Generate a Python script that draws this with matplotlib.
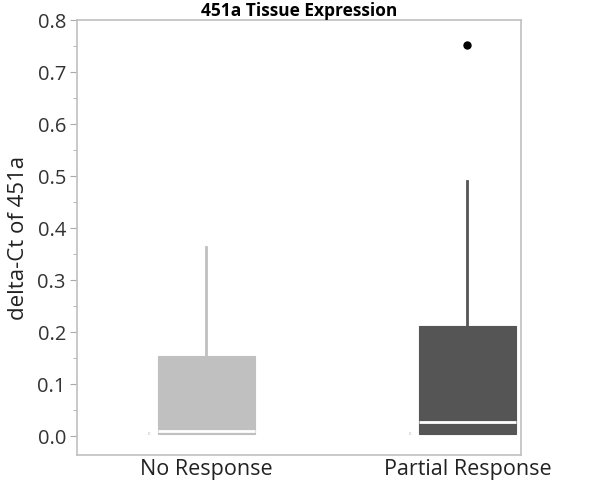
import numpy as np
import matplotlib
matplotlib.use('Agg')
import matplotlib.pyplot as plt
from matplotlib.ticker import MultipleLocator

plt.rcParams['font.family'] = ['Open Sans', 'DejaVu Sans']

groups = ['No Response', 'Partial Response']
q1 = [0.004, 0.004]
med = [0.009, 0.026]
q3 = [0.154, 0.211]
wlo = [0.004, 0.004]
whi = [0.363, 0.490]
outliers = [[], [0.752]]
box_colors = ['#c0c0c0', '#555555']

fig = plt.figure(figsize=(6, 4.82), dpi=100)
ax = fig.add_axes([77/600, 1 - 455/482, 444/600, 435/482])

stats = []
for i in range(len(groups)):
    stats.append(dict(label=groups[i], q1=q1[i], med=med[i], q3=q3[i],
                      whislo=wlo[i], whishi=whi[i], fliers=outliers[i]))

for i, s in enumerate(stats):
    ax.bxp([s], positions=[i], widths=0.37, patch_artist=True, showcaps=False,
           boxprops=dict(facecolor=box_colors[i], edgecolor=box_colors[i], linewidth=0.8),
           whiskerprops=dict(color=box_colors[i], linewidth=2),
           medianprops=dict(color='white', linewidth=2),
           flierprops=dict(marker='o', markerfacecolor='black', markeredgecolor='black',
                           markersize=5))
    ax.text(i - 0.22, q1[i], 'c', fontsize=4, color='#aaaaaa', ha='center', va='center')

ax.set_xlim(-0.495, 1.205)
ax.set_ylim(-0.0365, 0.8)
ax.yaxis.set_major_locator(MultipleLocator(0.1))
ax.yaxis.set_minor_locator(MultipleLocator(0.05))
ax.yaxis.set_major_formatter(matplotlib.ticker.FormatStrFormatter('%.1f'))
ax.set_xticks([0, 1])
ax.set_xticklabels(groups, fontsize=15.5, color='#222222')
ax.tick_params(axis='x', length=0, pad=3)
ax.tick_params(axis='y', which='major', length=5, color='#aaaaaa', labelsize=14.5,
               labelcolor='#333333', pad=3)
ax.tick_params(axis='y', which='minor', length=3, color='#aaaaaa')
for sp in ax.spines.values():
    sp.set_color('#c0c0c0')
    sp.set_linewidth(1.2)

ax.set_ylabel('delta-Ct of 451a', fontsize=16, color='#222222', labelpad=6)
ax.set_title('451a Tissue Expression', fontsize=12.5, fontweight='bold', pad=1)

fig.savefig('out.png', dpi=100)
